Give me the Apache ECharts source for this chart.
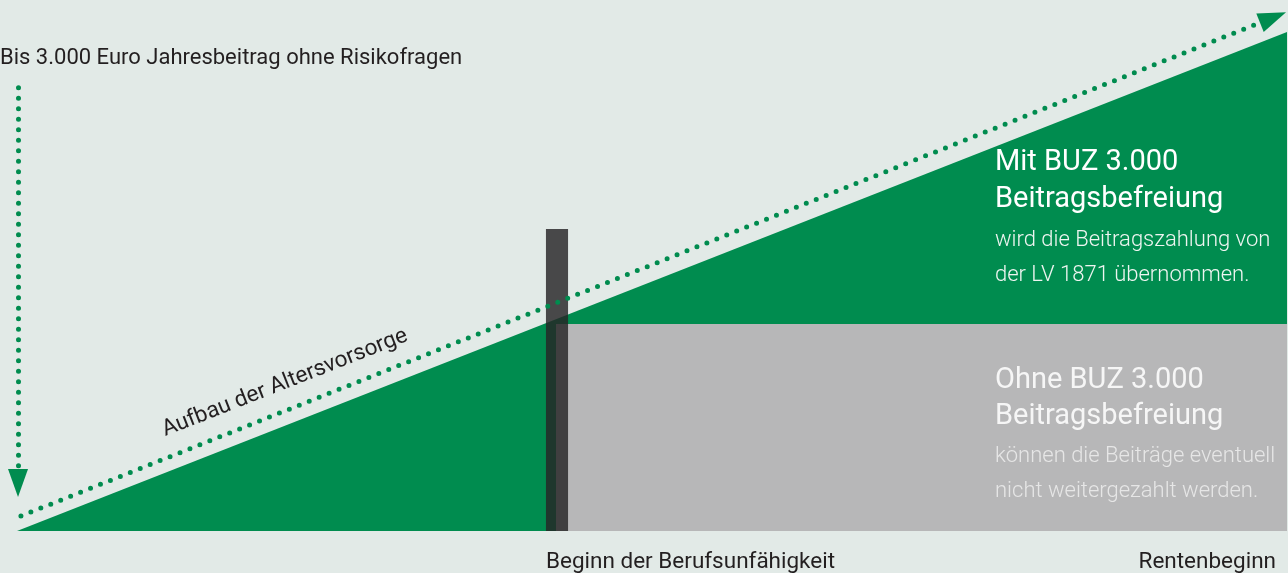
<!DOCTYPE html>
<html><head><meta charset="utf-8">
<script src="https://cdn.jsdelivr.net/npm/echarts@6/dist/echarts.min.js"></script>
<style>html,body{margin:0;padding:0;background:#e2eae7}#c{width:1288px;height:573px}</style>
</head><body><div id="c"></div>
<script>
// Abstract scales: x = Laufzeit (0 = Beginn, 100 = Rentenbeginn), y = Altersvorsorge
const provision = [[0, 0], [100, 100]];            // Aufbau der Altersvorsorge (green)
const withoutBuz = [[42.44, 41.5], [100, 41.5]];    // Ohne BUZ (grey)
const disabilityBar = [[41.65, 60.5], [43.39, 60.5]]; // Beginn der Berufsunfähigkeit
const trendArrow = [[0.31, 3.0], [98.9, 102.9]];
const entryArrow = [[0.08, 88.8], [0.08, 9.6]];

const titleText = 'Bis 3.000 Euro Jahresbeitrag ohne Risikofragen';
const slopeText = 'Aufbau der Altersvorsorge';
const axisLabels = ['Beginn der Berufsunfähigkeit', 'Rentenbeginn'];
const withHead = ['Mit BUZ 3.000', 'Beitragsbefreiung'];
const withBody = ['wird die Beitragszahlung von', 'der LV 1871 übernommen.'];
const withoutHead = ['Ohne BUZ 3.000', 'Beitragsbefreiung'];
const withoutBody = ['können die Beiträge eventuell', 'nicht weitergezahlt werden.'];

const GREEN = '#008c4f', GREY = '#b7b7b8', DARK = '#231f20';
const FONT = 'Roboto, "Liberation Sans", sans-serif';

const chart = echarts.init(document.getElementById('c'), null, {renderer: 'canvas'});

function txt(text, x, y, size, color, align, weight, rot) {
  return {type: 'text', x: x, y: y, rotation: rot || 0, z: 100,
    style: {text: text, fill: color, fontSize: size, fontFamily: FONT,
      fontWeight: weight || 'normal', align: align || 'left', verticalAlign: 'middle'}};
}

const dots = {color: GREEN, width: 5, cap: 'round'};

chart.setOption({
  backgroundColor: '#e2eae7',
  animation: false,
  grid: {left: 17, right: 1, top: 12, bottom: 42},
  xAxis: {type: 'value', min: 0, max: 100, show: false},
  yAxis: {type: 'value', min: 0, max: 104, show: false},
  series: [
    {type: 'line', data: provision, symbol: 'none', silent: true, z: 1,
      lineStyle: {width: 0}, areaStyle: {color: GREEN, opacity: 1}},
    {type: 'line', data: withoutBuz, symbol: 'none', silent: true, z: 2,
      lineStyle: {width: 0}, areaStyle: {color: GREY, opacity: 1}},
    {type: 'line', data: [], symbol: 'none', z: 3,
      markLine: {silent: true, animation: false, symbol: ['none', 'triangle'], symbolSize: [20, 28],
        label: {show: false},
        lineStyle: Object.assign({}, dots, {type: [0, 10.7]}),
        data: [
          [{coord: trendArrow[0]}, {coord: trendArrow[1]}],
          [{coord: entryArrow[0], lineStyle: Object.assign({}, dots, {type: [0, 10.5]})},
           {coord: entryArrow[1]}]
        ]}},
    {type: 'line', data: disabilityBar, symbol: 'none', silent: true, z: 4,
      lineStyle: {width: 0}, areaStyle: {color: 'rgba(38,36,38,0.82)', opacity: 1}}
  ],
  graphic: [
    txt(titleText, 0, 58.5, 22, DARK),
    txt(slopeText, 285, 383, 22.5, DARK, 'center', 'normal', 0.3744),
    txt(axisLabels[0], 546, 562, 22.5, DARK, 'left'),
    txt(axisLabels[1], 1276, 562, 22.5, DARK, 'right'),
    txt(withHead[0], 995, 163, 29, '#ffffff'),
    txt(withHead[1], 995, 200, 29, '#ffffff'),
    txt(withBody[0], 995, 240, 22, '#eef5f1', 'left', 300),
    txt(withBody[1], 995, 275, 22, '#eef5f1', 'left', 300),
    txt(withoutHead[0], 995, 381, 29, '#f6f6f6'),
    txt(withoutHead[1], 995, 417, 29, '#f6f6f6'),
    txt(withoutBody[0], 995, 456, 22, '#e6e6e6', 'left', 300),
    txt(withoutBody[1], 995, 491, 22, '#e6e6e6', 'left', 300)
  ]
});
</script></body></html>
